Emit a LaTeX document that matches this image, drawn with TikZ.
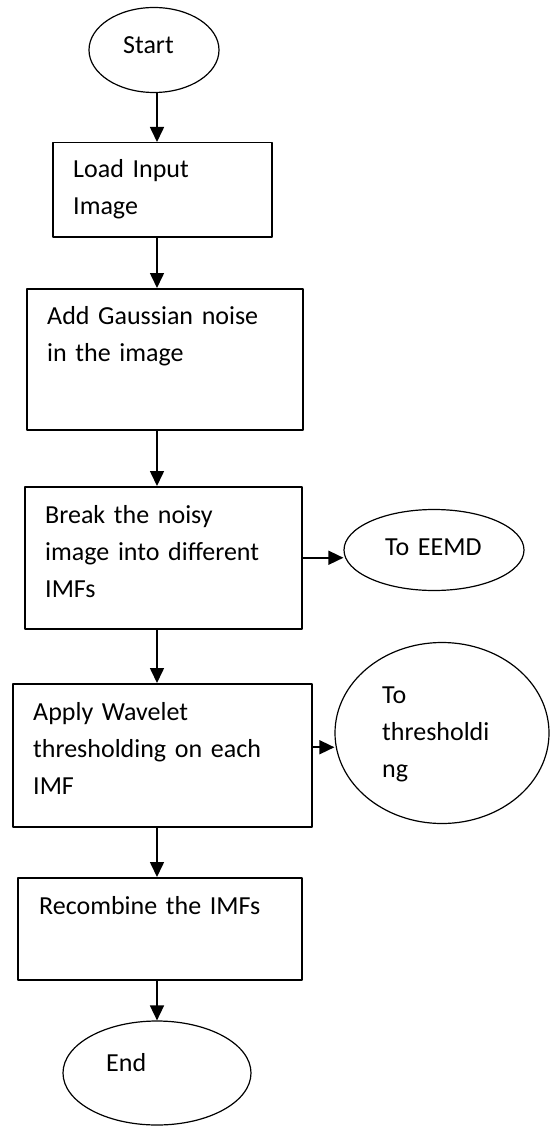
\documentclass[tikz,border=0pt]{standalone}
\usepackage{fontspec}
\setmainfont{Carlito}
\usetikzlibrary{arrows.meta,shapes.geometric,calc}

\begin{document}
\begin{tikzpicture}[x=1pt, y=-1pt, line join=round,
  box/.style={draw, line width=1.5pt, inner sep=0pt, anchor=north west},
  oval/.style={draw, ellipse, line width=1.2pt, inner sep=0pt},
  txt/.style={anchor=base west, inner sep=0pt, text width=260pt, align=left,
    font=\fontsize{26}{37}\selectfont},
  arr/.style={line width=1.6pt, -{Triangle[length=15pt, width=14pt]}}]
\useasboundingbox (0,0) rectangle (549,1126);
\coordinate (axis) at (157,0);
\node[oval, minimum width=130pt, minimum height=85pt] (start) at (154,50) {};
\node[txt] (starttxt) at (123,54) {Start};
\node[box, minimum width=219pt, minimum height=94pt] (load) at (52,142) {};
\node[txt] (loadtxt) at (73,178) {Load Input\\Image};
\node[box, minimum width=276pt, minimum height=141pt] (noise) at (26,288) {};
\node[txt] (noisetxt) at (47,324) {Add Gaussian noise\\in the image};
\node[box, minimum width=277pt, minimum height=142pt] (imf) at (24,486) {};
\node[txt] (imftxt) at (45,523) {Break the noisy\\image into different\\IMFs};
\node[oval, minimum width=180pt, minimum height=81pt] (eemd) at (434,550) {};
\node[txt] (eemdtxt) at (385,555) {To EEMD};
\node[box, minimum width=299pt, minimum height=143pt] (wav) at (12,683) {};
\node[txt] (wavtxt) at (33,720) {Apply Wavelet\\thresholding on each\\IMF};
\node[oval, minimum width=214pt, minimum height=181pt] (thr) at (442,733) {};
\node[txt] (thrtxt) at (382,703) {To\\thresholdi\\ng};
\node[box, minimum width=284pt, minimum height=102pt] (rec) at (17,877) {};
\node[txt] (rectxt) at (39,914) {Recombine the IMFs};
\node[oval, minimum width=188pt, minimum height=104pt] (end) at (157,1073) {};
\node[txt] (endtxt) at (106,1071) {End};
\draw[arr] (axis |- start.south) -- (axis |- load.north);
\draw[arr] (axis |- load.south) -- (axis |- noise.north);
\draw[arr] (axis |- noise.south) -- (axis |- imf.north);
\draw[arr] (axis |- imf.south) -- (axis |- wav.north);
\draw[arr] (axis |- wav.south) -- (axis |- rec.north);
\draw[arr] (axis |- rec.south) -- (axis |- end.north);
\draw[arr] (imf.east) -- (imf.east -| eemd.west);
\draw[arr] ([yshift=8pt]wav.east) -- ([yshift=8pt]wav.east -| thr.west);
\end{tikzpicture}
\end{document}
